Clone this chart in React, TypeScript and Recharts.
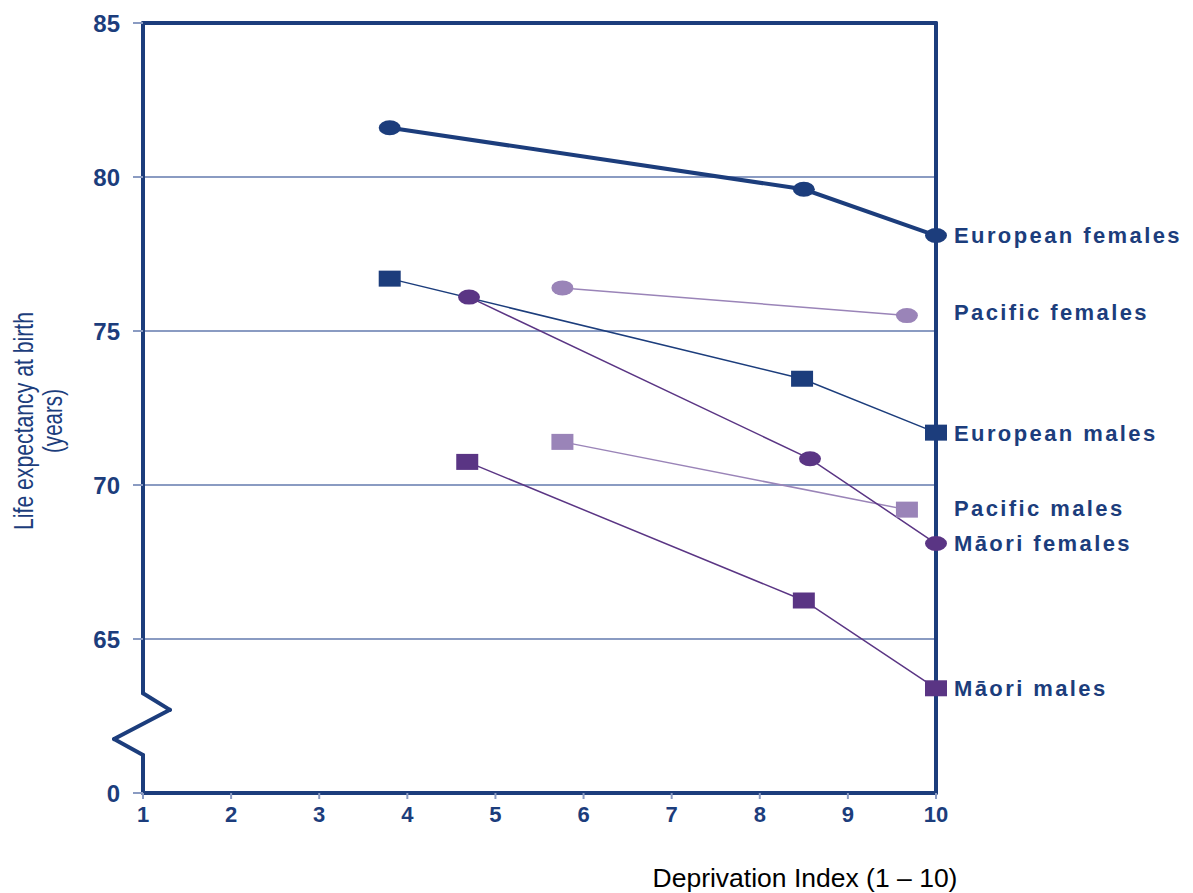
import { LineChart, Line, XAxis, YAxis, CartesianGrid, ReferenceLine, ReferenceDot, Label } from 'recharts'

const NAVY = '#1c3d7c'
const PURPLE = '#5a3584'
const LILAC = '#9a84b8'
const GRID = '#8a9bc2'
const FONT = '"Liberation Sans", Arial, sans-serif'

// x axis: deprivation decile, y axis: life expectancy (axis broken below 65, bottom shown as 0)
const deprivationTicks = [1, 2, 3, 4, 5, 6, 7, 8, 9, 10]
const lifeTicks = [60, 65, 70, 75, 80, 85]

const europeanFemalesX = [3.8, 8.5, 10]
const europeanFemalesY = [81.6, 79.6, 78.1]
const pacificFemalesX = [5.76, 9.67]
const pacificFemalesY = [76.4, 75.5]
const europeanMalesX = [3.8, 8.48, 10]
const europeanMalesY = [76.7, 73.45, 71.7]
const pacificMalesX = [5.76, 9.67]
const pacificMalesY = [71.4, 69.2]
const maoriFemalesX = [4.7, 8.57, 10]
const maoriFemalesY = [76.1, 70.85, 68.1]
const maoriMalesX = [4.68, 8.5, 10]
const maoriMalesY = [70.75, 66.25, 63.4]

const toPoints = (xs: number[], ys: number[]) => xs.map((x, i) => ({ x, y: ys[i] }))

const series = [
  { name: 'European females', data: toPoints(europeanFemalesX, europeanFemalesY), color: NAVY, width: 4, shape: 'circle', dy: 0 },
  { name: 'Pacific females', data: toPoints(pacificFemalesX, pacificFemalesY), color: LILAC, width: 1.5, shape: 'circle', dy: -4 },
  { name: 'European males', data: toPoints(europeanMalesX, europeanMalesY), color: NAVY, width: 1.5, shape: 'square', dy: 0 },
  { name: 'Pacific males', data: toPoints(pacificMalesX, pacificMalesY), color: LILAC, width: 1.5, shape: 'square', dy: -2 },
  { name: 'Māori females', data: toPoints(maoriFemalesX, maoriFemalesY), color: PURPLE, width: 1.5, shape: 'circle', dy: 0 },
  { name: 'Māori males', data: toPoints(maoriMalesX, maoriMalesY), color: PURPLE, width: 1.5, shape: 'square', dy: 0 },
]

// broken left axis, in data units
const leftAxis = [
  [{ x: 1, y: 85 }, { x: 1, y: 63.24 }],
  [{ x: 1, y: 63.24 }, { x: 1.306, y: 62.7 }],
  [{ x: 1.306, y: 62.7 }, { x: 0.671, y: 61.75 }],
  [{ x: 0.671, y: 61.75 }, { x: 1, y: 61.23 }],
  [{ x: 1, y: 61.23 }, { x: 1, y: 60 }],
]

const makeDot = (shape: string, color: string) => (props: any) => {
  const { cx, cy, index } = props
  if (cx == null || cy == null) return <g key={index} />
  return shape === 'square'
    ? <rect key={index} x={cx - 11} y={cy - 8} width={22} height={16} fill={color} />
    : <ellipse key={index} cx={cx} cy={cy} rx={11} ry={7.5} fill={color} />
}

const YTitle = () => (
  <g fill={NAVY} fontFamily={FONT}>
    <text x={25} y={413} transform="rotate(-90, 25, 413)" textAnchor="middle" fontSize={28}
      textLength={218} lengthAdjust="spacingAndGlyphs">
      Life expectancy at birth
    </text>
    <text x={54} y={413} transform="rotate(-90, 54, 413)" textAnchor="middle" fontSize={27}
      textLength={64} lengthAdjust="spacingAndGlyphs">
      (years)
    </text>
  </g>
)

const XTitle = () => (
  <text x={797} y={879} textAnchor="middle" fontSize={26.5} fontFamily={FONT} fill="#000">
    Deprivation Index (1 – 10)
  </text>
)

const seriesLabel = (name: string, dy: number) => (props: any) => {
  const vb = props.viewBox || {}
  return (
    <text x={vb.x + 18} y={vb.y + dy} dy="0.36em" fontSize={22} fontWeight={700} fontFamily={FONT}
      fill={NAVY} style={{ letterSpacing: '2.4px' }}>
      {name}
    </text>
  )
}

export default function App() {
  return (
    <LineChart width={1185} height={885} margin={{ top: 15, right: 257, bottom: 0, left: 0 }}>
      <CartesianGrid vertical={false} stroke={GRID} strokeWidth={2} />
      <XAxis
        type="number"
        dataKey="x"
        domain={[1, 10]}
        ticks={deprivationTicks}
        height={100}
        axisLine={false}
        tickSize={6}
        tickMargin={7}
        tickLine={{ stroke: GRID, strokeWidth: 2 }}
        tick={{ fill: NAVY, fontSize: 22, fontWeight: 700, fontFamily: FONT }}
      >
        <Label content={XTitle} />
      </XAxis>
      <YAxis
        type="number"
        domain={[60, 85]}
        ticks={lifeTicks}
        width={135}
        axisLine={false}
        tickSize={10}
        tickMargin={13}
        tickLine={{ stroke: GRID, strokeWidth: 2 }}
        tickFormatter={(v: number) => (v === 60 ? '0' : String(v))}
        tick={{ fill: NAVY, fontSize: 24, fontWeight: 700, fontFamily: FONT }}
      >
        <Label content={YTitle} />
      </YAxis>
      <ReferenceLine y={85} stroke={NAVY} strokeWidth={4} strokeLinecap="round" />
      <ReferenceLine y={60} stroke={NAVY} strokeWidth={4} strokeLinecap="round" />
      <ReferenceLine x={10} stroke={NAVY} strokeWidth={4} strokeLinecap="round" />
      {leftAxis.map((seg, i) => (
        <ReferenceLine key={i} segment={seg} ifOverflow="visible" stroke={NAVY} strokeWidth={4} strokeLinecap="round" />
      ))}
      {series.map((s) => (
        <Line
          key={s.name}
          data={s.data}
          dataKey="y"
          stroke={s.color}
          strokeWidth={s.width}
          dot={makeDot(s.shape, s.color)}
          activeDot={false}
          isAnimationActive={false}
        />
      ))}
      {series.map((s) => (
        <ReferenceDot
          key={s.name}
          x={10}
          y={s.data[s.data.length - 1].y}
          r={0}
          fill="none"
          stroke="none"
          ifOverflow="visible"
          label={{ content: seriesLabel(s.name, s.dy) }}
        />
      ))}
    </LineChart>
  )
}
